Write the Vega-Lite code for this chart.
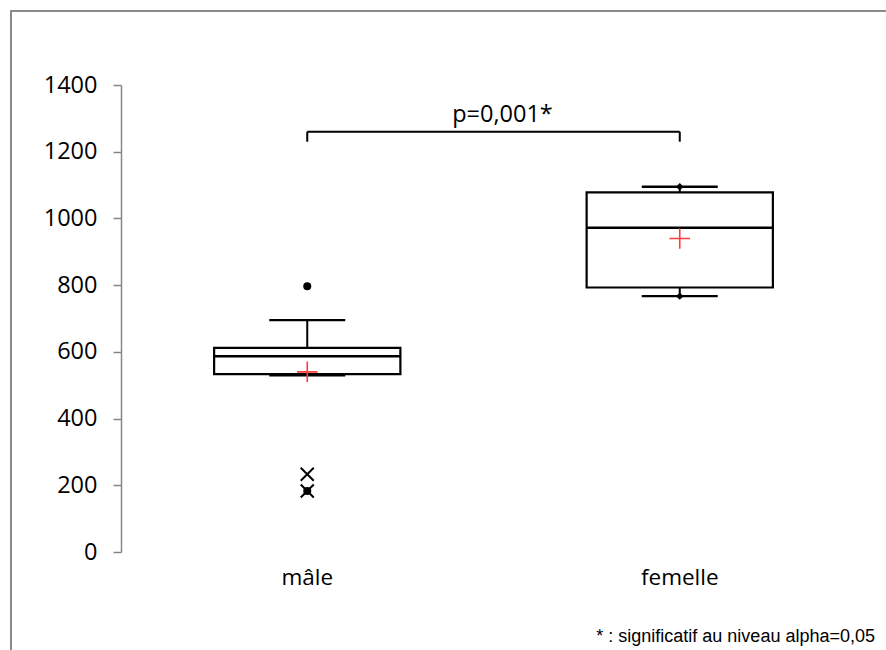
{
  "$schema": "https://vega.github.io/schema/vega-lite/v6.json",
  "autosize": {"type": "none"},
  "padding": {"left": 11, "top": 11, "right": 0, "bottom": 0},
  "width": 882,
  "height": 646,
  "background": "white",
  "config": {
    "view": {"stroke": "#8a8a8a", "strokeWidth": 2},
    "font": "Open Sans"
  },
  "datasets": {
    "boites": [
      {"sexe": "mâle", "min": 530, "q1": 533, "mediane": 587, "q3": 612, "max": 695, "moyenne": 540},
      {"sexe": "femelle", "min": 767, "q1": 793, "mediane": 972, "q3": 1078, "max": 1095, "moyenne": 940}
    ],
    "extremes": [
      {"sexe": "femelle", "valeur": 1095},
      {"sexe": "femelle", "valeur": 767}
    ],
    "atypiques": [
      {"sexe": "mâle", "valeur": 797, "type": "rond"},
      {"sexe": "mâle", "valeur": 233, "type": "croix"},
      {"sexe": "mâle", "valeur": 183, "type": "croix"},
      {"sexe": "mâle", "valeur": 183, "type": "rond"}
    ],
    "comparaison": [
      {"de": "mâle", "a": "femelle", "niveau": 1260, "pied": 1230, "texte": "p=0,001*"}
    ],
    "pieds": [
      {"sexe": "mâle", "bas": 1230, "haut": 1260},
      {"sexe": "femelle", "bas": 1230, "haut": 1260}
    ]
  },
  "encoding": {
    "x": {
      "field": "sexe",
      "type": "nominal",
      "title": null,
      "scale": {"domain": ["mâle", "femelle"], "range": [110, 855], "paddingInner": 0, "paddingOuter": 0},
      "axis": {
        "orient": "bottom",
        "offset": -105,
        "domain": false,
        "ticks": false,
        "labelAngle": 0,
        "labelFont": "Open Sans",
        "labelFontSize": 22.5,
        "labelColor": "#000000",
        "labelPadding": 14,
        "grid": false
      }
    }
  },
  "layer": [
    {
      "data": {"name": "boites"},
      "mark": {"type": "rule", "color": "#000000", "strokeWidth": 2},
      "encoding": {
        "y": {
          "field": "q3",
          "type": "quantitative",
          "title": null,
          "scale": {"domain": [0, 1400], "range": [541, 74], "nice": false, "zero": false},
          "axis": {
            "offset": -110,
            "values": [0, 200, 400, 600, 800, 1000, 1200, 1400],
            "format": "d",
            "domainColor": "#868686",
            "domainWidth": 1.5,
            "tickColor": "#868686",
            "tickWidth": 1.5,
            "tickSize": 8,
            "labelFont": "Open Sans",
            "labelFontSize": 23.5,
            "labelColor": "#000000",
            "labelPadding": 16,
            "grid": false
          }
        },
        "y2": {"field": "max"}
      }
    },
    {
      "data": {"name": "boites"},
      "mark": {"type": "rule", "color": "#000000", "strokeWidth": 2},
      "encoding": {
        "y": {"field": "min", "type": "quantitative", "title": null},
        "y2": {"field": "q1"}
      }
    },
    {
      "data": {"name": "boites"},
      "mark": {"type": "bar", "fill": "#ffffff", "stroke": "#000000", "strokeWidth": 2.2, "opacity": 1, "width": {"band": 0.5}},
      "encoding": {
        "y": {"field": "q1", "type": "quantitative", "title": null},
        "y2": {"field": "q3"}
      }
    },
    {
      "data": {"name": "boites"},
      "mark": {"type": "tick", "color": "#000000", "opacity": 1, "size": 187, "thickness": 2.6, "orient": "horizontal"},
      "encoding": {
        "y": {"field": "mediane", "type": "quantitative", "title": null}
      }
    },
    {
      "data": {"name": "boites"},
      "mark": {"type": "tick", "color": "#000000", "opacity": 1, "size": 76, "thickness": 2.4, "orient": "horizontal"},
      "encoding": {
        "y": {"field": "max", "type": "quantitative", "title": null}
      }
    },
    {
      "data": {"name": "boites"},
      "mark": {"type": "tick", "color": "#000000", "opacity": 1, "size": 76, "thickness": 2.4, "orient": "horizontal"},
      "encoding": {
        "y": {"field": "min", "type": "quantitative", "title": null}
      }
    },
    {
      "data": {"name": "extremes"},
      "mark": {"type": "point", "shape": "diamond", "filled": true, "color": "#000000", "size": 55, "opacity": 1},
      "encoding": {
        "y": {"field": "valeur", "type": "quantitative", "title": null}
      }
    },
    {
      "data": {"name": "atypiques"},
      "transform": [{"filter": "datum.type === 'rond'"}],
      "mark": {"type": "point", "shape": "circle", "filled": true, "color": "#000000", "size": 64, "opacity": 1},
      "encoding": {
        "y": {"field": "valeur", "type": "quantitative", "title": null}
      }
    },
    {
      "data": {"name": "atypiques"},
      "transform": [{"filter": "datum.type === 'croix'"}],
      "mark": {"type": "point", "shape": "M-1,-1L1,1M-1,1L1,-1", "filled": false, "color": "#000000", "strokeWidth": 2, "size": 170, "opacity": 1},
      "encoding": {
        "y": {"field": "valeur", "type": "quantitative", "title": null}
      }
    },
    {
      "data": {"name": "boites"},
      "mark": {"type": "point", "shape": "M-1,0L1,0M0,-1L0,1", "filled": false, "color": "#ff3b3b", "strokeWidth": 1.6, "size": 420, "opacity": 1},
      "encoding": {
        "y": {"field": "moyenne", "type": "quantitative", "title": null}
      }
    },
    {
      "data": {"name": "comparaison"},
      "mark": {"type": "rule", "color": "#000000", "strokeWidth": 2},
      "encoding": {
        "x": {"field": "de", "type": "nominal", "bandPosition": 0.5},
        "x2": {"field": "a", "bandPosition": 0.5},
        "y": {"field": "niveau", "type": "quantitative", "title": null}
      }
    },
    {
      "data": {"name": "pieds"},
      "mark": {"type": "rule", "color": "#000000", "strokeWidth": 2},
      "encoding": {
        "y": {"field": "bas", "type": "quantitative", "title": null},
        "y2": {"field": "haut"}
      }
    },
    {
      "data": {"name": "comparaison"},
      "mark": {"type": "text", "font": "Open Sans", "fontSize": 23.5, "color": "#000000", "align": "center", "baseline": "alphabetic", "dx": 9, "dy": -10},
      "encoding": {
        "x": {"datum": "mâle", "bandPosition": 1},
        "y": {"field": "niveau", "type": "quantitative", "title": null},
        "text": {"field": "texte"}
      }
    },
    {
      "data": {"values": [{"note": "* : significatif au niveau  alpha=0,05", "position": -270}]},
      "mark": {"type": "text", "font": "Liberation Sans", "fontSize": 18, "color": "#000000", "align": "right", "baseline": "alphabetic", "dx": 9},
      "encoding": {
        "x": {"datum": "femelle", "bandPosition": 1},
        "y": {"field": "position", "type": "quantitative", "title": null},
        "text": {"field": "note"}
      }
    }
  ]
}
